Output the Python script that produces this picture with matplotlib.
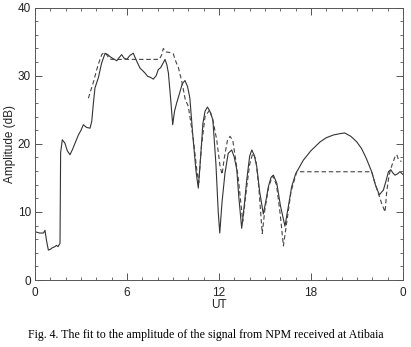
import matplotlib
matplotlib.use("Agg")
import matplotlib.pyplot as plt
from matplotlib.ticker import MultipleLocator

# measured amplitude (solid)
meas_ut = [0.0, 0.3, 0.55, 0.65, 0.75, 0.87, 1.0, 1.1, 1.3, 1.4, 1.5, 1.63,
           1.67, 1.78, 1.95, 2.1, 2.28, 2.45, 2.61, 2.83, 3.0, 3.15, 3.37, 3.59,
           3.7, 3.8, 3.91, 4.13, 4.35, 4.57, 4.75, 4.89, 5.1, 5.33, 5.5, 5.65,
           5.8, 5.98, 6.2, 6.41, 6.6, 6.85, 7.0, 7.17, 7.35, 7.5, 7.72, 7.9,
           8.04, 8.2, 8.48, 8.6, 8.7, 8.85, 8.98, 9.1, 9.24, 9.45, 9.6, 9.78,
           9.95, 10.1, 10.3, 10.5, 10.65, 10.8, 10.95, 11.09, 11.25, 11.4, 11.6,
           11.8, 11.95, 12.05, 12.2, 12.39, 12.6, 12.83, 13.0, 13.16, 13.3,
           13.48, 13.65, 13.81, 14.0, 14.14, 14.3, 14.46, 14.65, 14.89, 15.05,
           15.22, 15.4, 15.55, 15.77, 16.0, 16.3, 16.5, 16.74, 17.0, 17.2, 17.5,
           18.0, 18.6, 19.0, 19.46, 19.9, 20.2, 20.6, 20.98, 21.3, 21.6, 21.96,
           22.2, 22.46, 22.6, 22.72, 22.9, 23.05, 23.2, 23.35, 23.48, 23.65,
           23.8, 24.0]
meas_db = [7.1, 6.9, 6.9, 7.3, 5.8, 4.4, 4.5, 4.7, 4.9, 5.1, 4.9, 5.4,
           18.7, 20.6, 20.1, 19.0, 18.4, 19.2, 20.1, 21.3, 22.0, 22.8, 22.4, 22.3,
           23.3, 25.8, 28.2, 29.7, 31.9, 33.3, 33.1, 32.8, 32.5, 32.2, 32.7, 33.1,
           32.6, 32.4, 33.0, 33.3, 32.3, 31.1, 30.8, 30.4, 29.9, 29.8, 29.5, 30.0,
           30.9, 31.2, 32.4, 31.6, 30.4, 26.5, 22.8, 24.8, 26.0, 27.6, 28.8, 29.3,
           28.4, 26.7, 21.0, 16.0, 13.5, 18.0, 23.0, 24.8, 25.4, 24.8, 23.5,
           17.0, 10.0, 6.9, 11.5, 15.7, 18.6, 19.1, 18.0, 16.2, 12.0,
           7.6, 11.0, 14.7, 18.2, 19.1, 18.3, 16.7, 13.0, 9.7, 11.5,
           13.7, 15.1, 15.4, 14.2, 11.0, 7.9, 10.5, 13.7, 15.6, 16.4, 17.6,
           19.0, 20.3, 20.9, 21.3, 21.5, 21.6, 21.1, 20.3, 19.3, 17.9, 15.9,
           14.0, 12.5, 12.9, 13.2, 14.6, 15.9, 16.2, 15.7, 15.4, 15.6,
           15.9, 15.5]

# fitted amplitude (dashed)
fit_ut = [3.48, 3.8, 4.1, 4.35, 4.5, 4.67, 4.85, 5.0, 8.1, 8.25, 8.37, 8.55,
          8.8, 9.02, 9.2, 9.35, 9.57, 9.8, 10.0, 10.33, 10.55, 10.68, 10.85,
          11.09, 11.4, 11.6, 11.85, 12.07, 12.2, 12.35, 12.55, 12.72, 12.9,
          13.1, 13.27, 13.55, 13.8, 14.0, 14.2, 14.4, 14.6, 14.82, 15.0, 15.25,
          15.5, 15.75, 16.0, 16.2, 16.45, 16.7, 17.07, 21.96, 22.2, 22.5, 22.6,
          22.83, 22.94, 23.1, 23.3, 23.48, 23.6, 23.7, 23.9]
fit_db = [26.7, 29.0, 31.5, 33.1, 33.4, 33.1, 32.5, 32.4, 32.4, 33.0, 34.0, 33.5,
          33.4, 33.2, 32.0, 31.2, 29.2, 26.5, 25.5, 20.6, 16.2, 14.3, 19.5,
          24.0, 25.0, 23.5, 20.6, 16.7, 15.5, 18.0, 20.5, 21.1, 20.5,
          17.5, 14.7, 8.6, 13.5, 17.0, 18.6, 17.8, 13.5, 6.8, 10.5, 13.8,
          15.3, 14.0, 9.5, 5.0, 9.0, 13.0, 15.9, 15.9, 14.0, 12.0, 11.3,
          10.0, 13.0, 15.5, 17.0, 18.1, 18.4, 17.7, 17.4]

x_ticks = [0, 6, 12, 18, 24]
x_tick_labels = ["0", "6", "12", "18", "0"]
y_ticks = [0, 10, 20, 30, 40]


def main():
    plt.rcParams["font.family"] = ["Liberation Sans", "DejaVu Sans"]
    fig = plt.figure(figsize=(4.11, 3.47), dpi=100)
    ax = fig.add_axes([0.0852, 0.193, 0.8953, 0.785])

    ax.plot(meas_ut, meas_db, color="#333333", lw=0.8)
    ax.plot(fit_ut, fit_db, color="#444444", lw=0.8, ls=(0, (4, 2.5)))

    ax.set_xlim(0, 24)
    ax.set_ylim(0, 40)
    ax.set_xticks(x_ticks)
    ax.set_xticklabels(x_tick_labels)
    ax.set_yticks(y_ticks)
    ax.xaxis.set_minor_locator(MultipleLocator(1))
    ax.yaxis.set_minor_locator(MultipleLocator(2))
    ax.tick_params(which="both", direction="in", top=True, right=True,
                   colors="#555555", labelcolor="#222222", labelsize=8.5)
    ax.tick_params(which="major", length=5, width=0.7)
    ax.tick_params(which="minor", length=2.5, width=0.6)
    ax.tick_params(axis="x", pad=5)
    ax.tick_params(axis="y", pad=3)
    for s in ax.spines.values():
        s.set_color("#555555")
        s.set_linewidth(0.7)

    ax.set_xlabel("UT", fontsize=8.5, color="#222222", labelpad=0)
    ax.set_ylabel("Amplitude (dB)", fontsize=8.5, color="#222222", labelpad=1)

    fig.text(0.5, 0.035, "Fig. 4. The fit to the amplitude of the signal from NPM received at Atibaia",
             ha="center", va="center", fontsize=8.6, family="Liberation Serif")

    fig.savefig("out.png", dpi=100)


if __name__ == "__main__":
    main()
